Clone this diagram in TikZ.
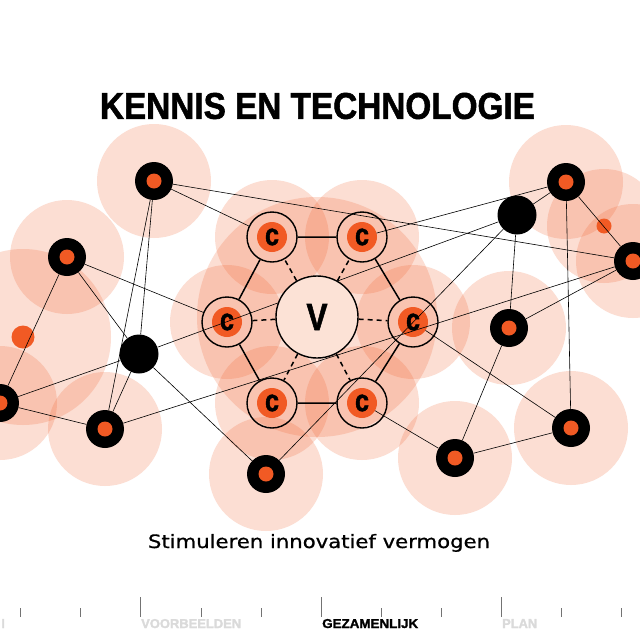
\documentclass[tikz,border=0pt]{standalone}
\usepackage{graphicx}
\usepackage{fontspec}
\setmainfont{Liberation Sans}
\newfontfamily\heavyfont{Liberation Sans}[UprightFont={* Bold},FakeBold=1.6]
\newfontfamily\subfont{DejaVu Sans}[FakeBold=0.7]
\definecolor{org}{RGB}{241,90,36}
\definecolor{vfill}{RGB}{252,226,214}
\definecolor{navgray}{RGB}{218,218,218}
\begin{document}
\begin{tikzpicture}[x=1pt,y=-1pt,
  halo/.style={fill=org,fill opacity=0.2},
  ringnode/.style={circle,fill=black,minimum size=38pt,inner sep=0pt,
    path picture={\fill[org] (path picture bounding box.center) circle (7.5pt);}},
  solidnode/.style={circle,fill=black,minimum size=39pt,inner sep=0pt},
  dotnode/.style={circle,fill=org,inner sep=0pt},
  cnode/.style={circle,draw=black,line width=1.4pt,minimum size=50pt,inner sep=0pt,
    path picture={\fill[org] (path picture bounding box.center) circle (15pt);}},
  vnode/.style={circle,draw=black,line width=1.4pt,fill=vfill,minimum size=82pt,inner sep=0pt},
  hexedge/.style={line width=1.5pt},
  spoke/.style={line width=1.5pt,dash pattern=on 5pt off 4pt},
  link/.style={line width=0.6pt},
  tickmark/.style={black!55,line width=0.6pt},
  navlabel/.style={anchor=base west,inner sep=0pt,font=\bfseries}
]
\fill[white] (0,0) rectangle (640,640);
\useasboundingbox (0,0) rectangle (640,640);

% positions
\coordinate (pA) at (154,181);
\coordinate (pB) at (67,257);
\coordinate (pd1) at (23,337);
\coordinate (pC) at (0,403);
\coordinate (pD) at (139,354);
\coordinate (pE) at (105,429);
\coordinate (pL) at (266,474);
\coordinate (pF) at (566,182);
\coordinate (pG) at (517,215);
\coordinate (pd2) at (604,226);
\coordinate (pH) at (633,261);
\coordinate (pI) at (509,328);
\coordinate (pJ) at (571,428);
\coordinate (pK) at (455,458);
\coordinate (pV) at (317,317);
\coordinate (pcTL) at (272,237);
\coordinate (pcTR) at (362,237);
\coordinate (pcL) at (227,322);
\coordinate (pcR) at (413,322);
\coordinate (pcBL) at (272,403);
\coordinate (pcBR) at (362,403);

% halos
\fill[halo] (pV) circle (120);
\foreach \p in {pA,pB,pC,pE,pL,pF,pd2,pH,pI,pJ,pK,pcTL,pcTR,pcL,pcR,pcBL,pcBR}
  \fill[halo] (\p) circle (57);
\fill[halo] (pd1) circle (88);

% title
\node[inner sep=0pt] (title) at (317.5,106) {\resizebox{435pt}{26pt}{\heavyfont KENNIS EN TECHNOLOGIE}};

% c nodes
\foreach \n in {cTL,cTR,cL,cR,cBL,cBR}
  \node[cnode] (\n) at (p\n) {\resizebox{14pt}{16.5pt}{\heavyfont c}};

% black nodes
\foreach \n in {A,B,C,E,L,F,H,I,J,K}
  \node[ringnode] (\n) at (p\n) {};
\node[solidnode] (D) at (pD) {};
\node[solidnode] (G) at (pG) {};
\node[dotnode,minimum size=23pt] (d1) at (pd1) {};
\node[dotnode,minimum size=15pt] (d2) at (pd2) {};

% links
\draw[link] (A) -- (cTL);
\draw[link] (A) -- (H);
\draw[link] (A) -- (D);
\draw[link] (A) -- (E);
\draw[link] (B) -- (C);
\draw[link] (B) -- (D);
\draw[link] (B) -- (cL);
\draw[link] (D) -- (C);
\draw[link] (D) -- (E);
\draw[link] (D) -- (L);
\draw[link] (D) -- (G);
\draw[link] (C) -- (E);
\draw[link] (E) -- (H);
\draw[link,shorten >=15pt] (F) -- (cTR.center);
\draw[link] (G) -- (L);
\draw[link,shorten <=15pt] (cR.center) -- (J);
\draw[link,shorten <=15pt] (cBR.center) -- (K);
\draw[link] (F) -- (G);
\draw[link] (F) -- (H);
\draw[link] (F) -- (J);
\draw[link] (G) -- (I);
\draw[link] (H) -- (I);
\draw[link] (I) -- (K);
\draw[link] (K) -- (J);

% hexagon
\draw[hexedge] (cTL) -- (cTR) -- (cR) -- (cBR) -- (cBL) -- (cL) -- (cTL);
\node[vnode] (V) at (pV) {\resizebox{21pt}{26pt}{\heavyfont V}};
\foreach \n in {cTL,cTR,cL,cR,cBL,cBR}
  \draw[spoke] (V) -- (\n);

% subtitle
\node[anchor=base,inner sep=0pt] (sub) at (319,548) {\resizebox{342pt}{14pt}{\subfont Stimuleren innovatief vermogen}};

% navigation bar
\foreach \k in {0,...,10} {
  \pgfmathsetmacro{\xx}{20.5+60.1*\k}
  \ifnum\k=2 \draw[tickmark] (\xx,597) -- (\xx,617);
  \else\ifnum\k=5 \draw[tickmark] (\xx,597) -- (\xx,617);
  \else\ifnum\k=8 \draw[tickmark] (\xx,597) -- (\xx,617);
  \else \draw[tickmark] (\xx,608) -- (\xx,617);
  \fi\fi\fi
}
\node[navlabel,text=navgray] (nav0) at (1.5,628) {\resizebox{3pt}{9pt}{\heavyfont I}};
\node[navlabel,text=navgray] (nav1) at (141,628) {\resizebox{100pt}{9pt}{\heavyfont VOORBEELDEN}};
\node[navlabel,text=black] (nav2) at (322,628) {\resizebox{96pt}{9pt}{\heavyfont GEZAMENLIJK}};
\node[navlabel,text=navgray] (nav3) at (502,628) {\resizebox{35pt}{9pt}{\heavyfont PLAN}};
\end{tikzpicture}
\end{document}
